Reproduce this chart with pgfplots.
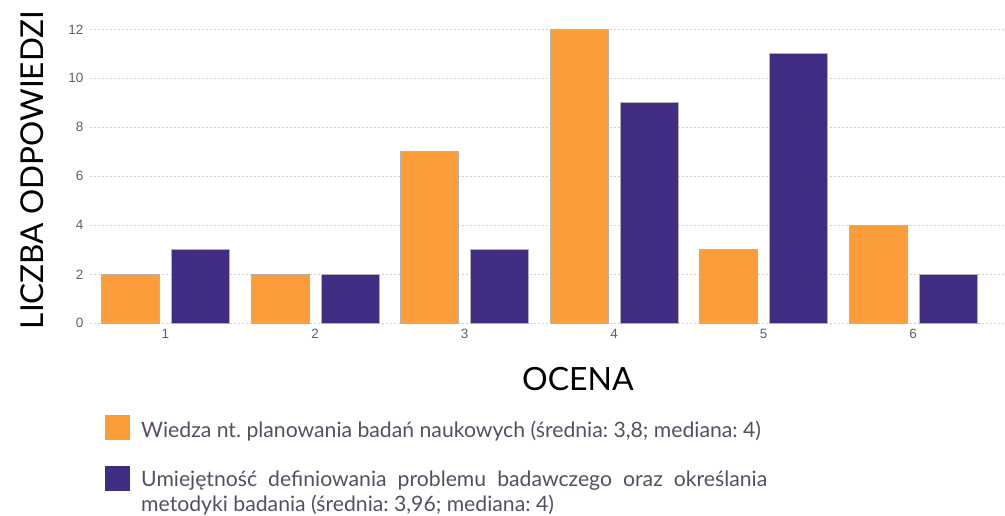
\documentclass[border=0pt]{standalone}
\usepackage{fontspec}
\setmainfont{Lato}
\newfontfamily\tickfont{Liberation Sans}
\usepackage{pgfplots}
\pgfplotsset{compat=1.18}
\definecolor{bOrange}{HTML}{FD9D3A}
\definecolor{bPurple}{HTML}{412C83}
\definecolor{gridc}{HTML}{CFCFCF}
\definecolor{tickc}{HTML}{606060}
\definecolor{legc}{HTML}{4F5361}
\frenchspacing
\begin{document}
\begin{tikzpicture}
\path[use as bounding box] (0pt,0pt) rectangle (1005pt,515pt);
\begin{axis}[
 at={(90pt,191.7pt)}, anchor=south west, scale only axis,
 width=915pt, height=294pt,
 xmin=0.495, xmax=6.615, ymin=0, ymax=12,
 ybar=12pt, bar width=58pt,
 axis line style={draw=none},
 major tick length=0pt,
 xtick={1,2,3,4,5,6}, ytick={0,2,4,6,8,10,12},
 ymajorgrids, grid style={gridc, dash pattern=on 2pt off 2pt, line width=0.9pt},
 tick label style={font=\tickfont\fontsize{13.5}{15}\selectfont, text=tickc},
 yticklabel style={xshift=-3pt},
 xticklabel style={yshift=-2pt},
 /pgf/number format/assume math mode=true,
 clip=false,
]
\addplot[fill=bOrange, draw=gray!60, line width=0.8pt] coordinates {(1,2) (2,2) (3,7) (4,12) (5,3) (6,4)};
\addplot[fill=bPurple, draw=gray!60, line width=0.8pt] coordinates {(1,3) (2,2) (3,3) (4,9) (5,11) (6,2)};
\end{axis}
\node[rotate=90, font=\fontsize{31.5}{36}\selectfont] at (32pt,345pt) {LICZBA ODPOWIEDZI};
\node[font=\fontsize{32}{36}\selectfont] at (578pt,136pt) {OCENA};
\fill[bOrange] (105pt,75pt) rectangle (130pt,100pt);
\fill[bPurple] (105pt,24pt) rectangle (130pt,49pt);
\node[anchor=base west, inner sep=0pt, text=legc, font=\fontsize{21.2}{25}\selectfont] at (141pt,78pt) {Wiedza nt. planowania badań naukowych (średnia: 3,8; mediana: 4)};
\node[anchor=north west, inner sep=0pt, text width=626pt, align=justify, text=legc, font=\fontsize{21.2}{25}\selectfont] at (141pt,44pt) {Umiejętność definiowania problemu badawczego oraz określania metodyki badania (średnia: 3,96; mediana: 4)};
\end{tikzpicture}
\end{document}
